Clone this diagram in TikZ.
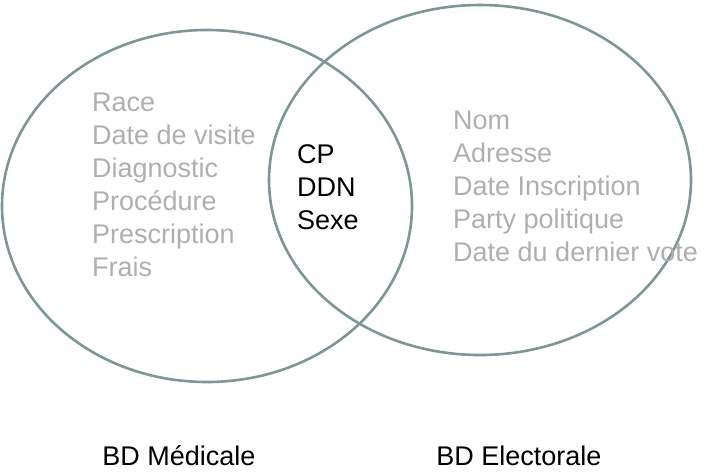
\documentclass[tikz,border=0pt]{standalone}
\usepackage{fontspec}
\setmainfont{Liberation Sans}
\definecolor{ring}{RGB}{125,150,150}
\definecolor{soft}{RGB}{175,175,175}
\begin{document}
\begin{tikzpicture}[x=1pt,y=-1pt,
  ringstyle/.style={draw=ring,line width=2.6pt},
  item/.style={anchor=base west,inner sep=0pt,font=\fontsize{27}{31}\selectfont},
  caption/.style={anchor=base,inner sep=0pt,font=\fontsize{27}{31}\selectfont}]
\useasboundingbox (0,0) rectangle (704,472);
\draw[ringstyle] (207,206) ellipse [x radius=205,y radius=176];
\draw[ringstyle] (480,180) ellipse [x radius=211,y radius=175];
\foreach \t [count=\i] in {Race,Date de visite,Diagnostic,Procédure,Prescription,Frais}
  \node[item,text=soft] (l\i) at (92,{102+33*(\i-1)+9}) {\t};
\foreach \t [count=\i] in {CP,DDN,Sexe}
  \node[item] (m\i) at (297,{154+33*(\i-1)+9}) {\t};
\foreach \t [count=\i] in {Nom,Adresse,Date Inscription,Party politique,Date du dernier vote}
  \node[item,text=soft] (r\i) at (453,{120+33*(\i-1)+9}) {\t};
\node[caption] (bl) at (179,465) {BD Médicale};
\node[caption] (br) at (519,465) {BD Electorale};
\end{tikzpicture}
\end{document}
